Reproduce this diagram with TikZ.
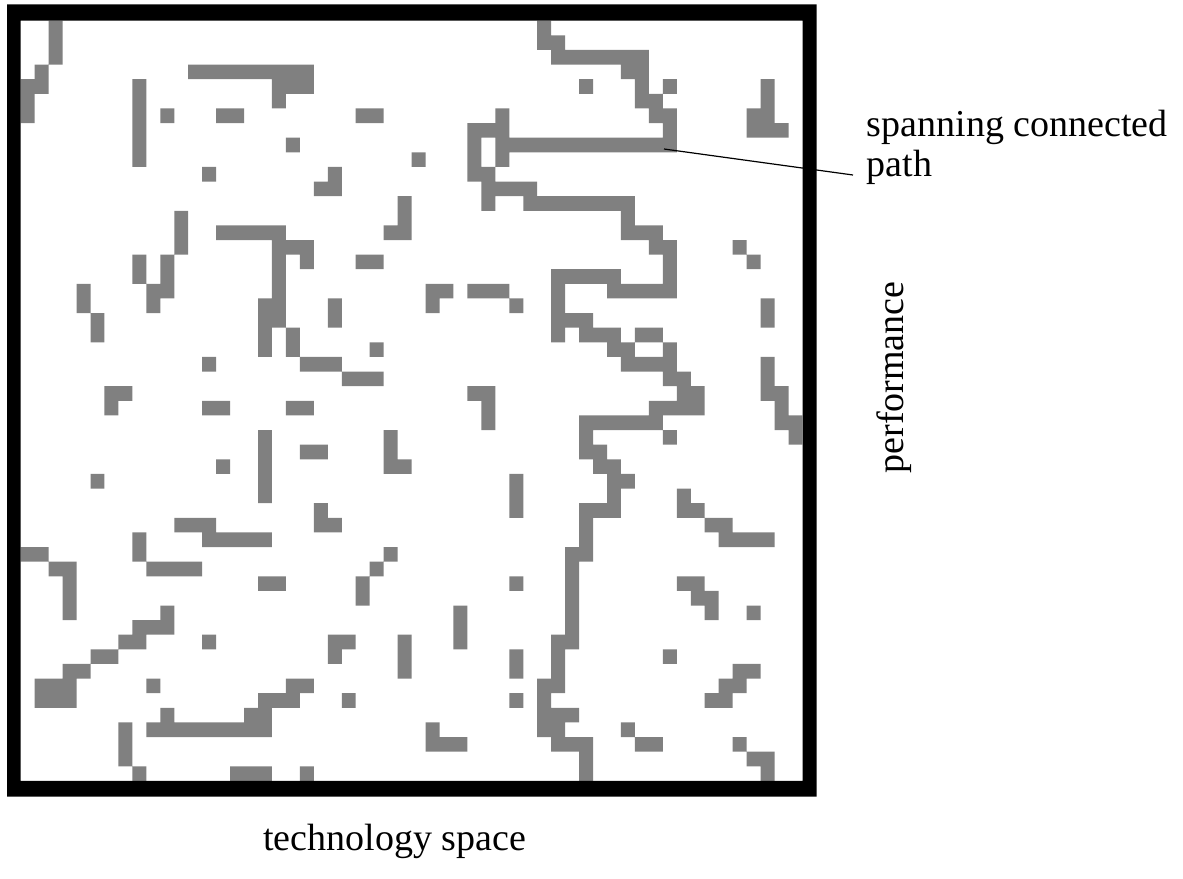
\documentclass[tikz,border=0pt]{standalone}
\usepackage{fontspec}
\setmainfont{Liberation Serif}
\definecolor{cellgray}{RGB}{128,128,128}
\begin{document}
\begin{tikzpicture}[x=1pt,y=-1pt,
  captext/.style={inner sep=0pt, font=\fontsize{38}{41}\selectfont},
  leader/.style={line width=1.2pt, black}]
\useasboundingbox (0,0) rectangle (1183,878);
\fill[white] (0,0) rectangle (1183,878);

% lattice geometry: 56 columns x 52 rows inside the frame
\def\gx{20.7}\def\gy{20.7}\def\cw{13.96}\def\ch{14.62}

% occupied sites, listed row by row (row/{columns})
\fill[cellgray] \foreach \r/\cl in {
  0/{2,37},
  1/{2,37,38},
  2/{2,38,39,40,41,42,43,44},
  3/{1,12,13,14,15,16,17,18,19,20,43,44},
  4/{0,1,8,18,19,20,40,44,46,53},
  5/{0,8,18,44,45,53},
  6/{0,8,10,14,15,24,25,34,45,46,52,53},
  7/{8,32,33,34,46,52,53,54},
  8/{8,19,32,34,35,36,37,38,39,40,41,42,43,44,45,46},
  9/{8,28,32,34},
  10/{13,22,32,33},
  11/{21,22,33,34,35,36},
  12/{27,33,36,37,38,39,40,41,42,43},
  13/{11,27,43},
  14/{11,14,15,16,17,18,26,27,43,44,45},
  15/{11,18,19,20,45,46,51},
  16/{8,10,18,20,24,25,46,52},
  17/{8,10,18,38,39,40,41,42,46},
  18/{4,9,10,18,29,30,32,33,34,38,42,43,44,45,46},
  19/{4,9,17,18,22,29,35,38,53},
  20/{5,17,18,22,38,39,40,53},
  21/{5,17,19,38,40,41,42,44,45},
  22/{17,19,25,42,43,46},
  23/{13,20,21,22,43,44,45,46,53},
  24/{23,24,25,46,47,53},
  25/{6,7,32,33,47,48,53,54},
  26/{6,13,14,19,20,33,45,46,47,48,54},
  27/{33,40,41,42,43,44,45,54,55},
  28/{17,26,40,46,55},
  29/{17,20,21,26,40,41},
  30/{14,17,26,27,41,42},
  31/{5,17,35,42,43},
  32/{17,35,42,47},
  33/{21,35,40,41,42,47,48},
  34/{11,12,13,21,22,40,49,50},
  35/{8,13,14,15,16,17,40,50,51,52,53},
  36/{0,1,8,26,39,40},
  37/{2,3,9,10,11,12,25,39},
  38/{3,17,18,24,35,39,47,48},
  39/{3,24,39,48,49},
  40/{3,10,31,39,49,52},
  41/{8,9,10,31,39},
  42/{7,8,13,22,23,27,31,38,39},
  43/{5,6,22,27,35,38,46},
  44/{3,4,27,35,38,51,52},
  45/{1,2,3,9,19,20,37,38,50,51},
  46/{1,2,3,17,18,19,23,35,37,49,50},
  47/{10,16,17,37,38,39},
  48/{7,9,10,11,12,13,14,15,16,17,29,37,38,43},
  49/{7,29,30,31,38,39,40,44,45,51},
  50/{7,40,52,53},
  51/{8,15,16,17,20,40,53}}
  { \foreach \c in \cl { ({\gx+\cw*\c},{\gy+\ch*\r}) rectangle ++(\cw,\ch) } };

% heavy frame around the lattice
\fill[black, even odd rule] (7,4.4) rectangle (816.7,796.7)
  (20.7,20.7) rectangle (802.6,780.9);

% annotation of the spanning path
\coordinate (pathpt) at (664,149);
\coordinate (pathtip) at (853,175);
\draw[leader] (pathpt) -- (pathtip);
\node[captext, anchor=base west] (lbltop) at (866.7,136.7) {spanning connected};
\node[captext, anchor=base west] (lblpath) at (866.7,176.7) {path};

% axis captions
\node[captext, anchor=base] (xlabel) at (394.5,850) {technology space};
\node[captext, anchor=base, rotate=90] (ylabel) at (903.3,377.5) {performance};
\end{tikzpicture}
\end{document}
